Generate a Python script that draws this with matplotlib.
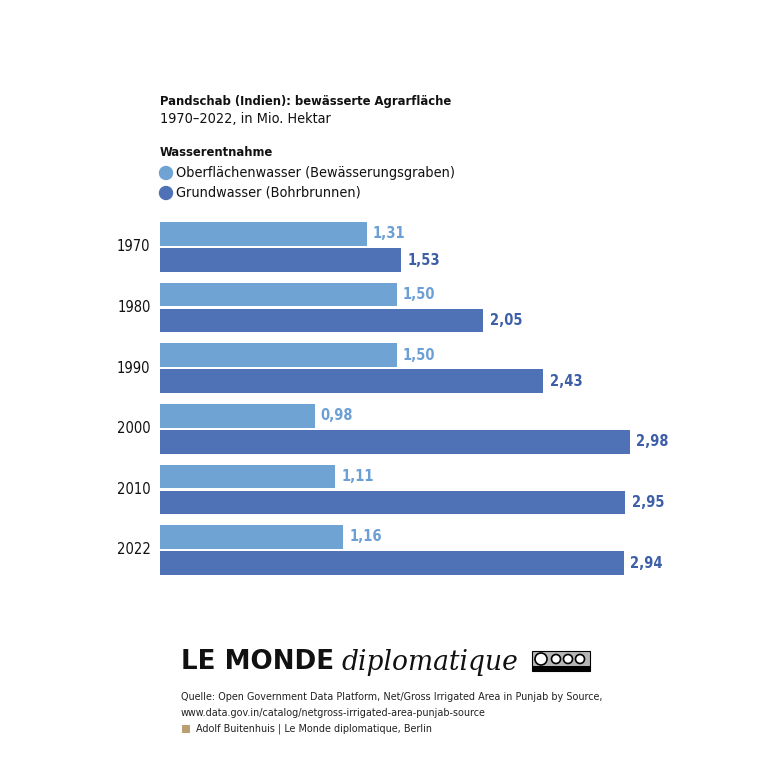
import numpy as np
import matplotlib.pyplot as plt
from matplotlib.patches import Rectangle, Circle

years = ["1970", "1980", "1990", "2000", "2010", "2022"]
surface = [1.31, 1.50, 1.50, 0.98, 1.11, 1.16]   # Oberflächenwasser
ground = [1.53, 2.05, 2.43, 2.98, 2.95, 2.94]    # Grundwasser

light = "#6fa3d4"
dark = "#4f72b6"
light_txt = "#6c9fd5"
dark_txt = "#3d5fa8"

plt.rcParams['font.family'] = ['DejaVu Sans']
plt.rcParams['font.stretch'] = 'condensed'

fig = plt.figure(figsize=(7.81, 7.78), dpi=100)
W, H = 781, 778

def fx(px):
    return px / W

def fy(py):
    return 1 - py / H

# axes: x=0 at 160px, 157.7 px per unit; groups 60.6px apart
ax = fig.add_axes([fx(160), fy(580.3), 3.5 * 157.7 / W, (580.3 - 216.7) / H])
y = np.arange(len(years))
off = 0.215
h = 0.39
ax.barh(y - off, surface, height=h, color=light)
ax.barh(y + off, ground, height=h, color=dark)
for i in range(len(years)):
    ax.text(surface[i] + 0.04, y[i] - off, f"{surface[i]:.2f}".replace(".", ","),
            va="center", ha="left", fontsize=10.5, fontweight="bold", color=light_txt)
    ax.text(ground[i] + 0.04, y[i] + off, f"{ground[i]:.2f}".replace(".", ","),
            va="center", ha="left", fontsize=10.5, fontweight="bold", color=dark_txt)
    ax.text(-0.06, y[i], years[i], va="center", ha="right", fontsize=10.5, color="#111111")
ax.set_xlim(0, 3.5)
ax.set_ylim(5.5, -0.5)
ax.axis("off")

# header
fb, fr = 9.3, 10.4
fig.text(fx(160), fy(101), "Pandschab (Indien): bewässerte Agrarfläche", fontsize=fb,
         fontweight="bold", va="center", ha="left", color="#111111")
fig.text(fx(160), fy(119), "1970–2022, in Mio. Hektar", fontsize=fr,
         va="center", ha="left", color="#111111")
fig.text(fx(160), fy(153), "Wasserentnahme", fontsize=fb, fontweight="bold",
         va="center", ha="left", color="#111111")
fig.patches.append(Circle((fx(166), fy(173)), 6.5 / W, color=light,
                          transform=fig.transFigure, figure=fig))
fig.text(fx(176), fy(173), "Oberflächenwasser (Bewässerungsgraben)", fontsize=fr,
         va="center", ha="left", color="#111111")
fig.patches.append(Circle((fx(166), fy(193)), 6.5 / W, color=dark,
                          transform=fig.transFigure, figure=fig))
fig.text(fx(176), fy(193), "Grundwasser (Bohrbrunnen)", fontsize=fr,
         va="center", ha="left", color="#111111")

# logo
fig.text(fx(181), fy(662), "LE MONDE", fontsize=18.8, fontweight="heavy",
         family=["DejaVu Sans"], stretch="normal", va="center", ha="left", color="#111111")
fig.text(fx(341), fy(663), "diplomatique", fontsize=19.1, style="italic",
         family=["DejaVu Serif"], stretch="normal", va="center", ha="left", color="#111111")
fig.patches.append(Rectangle((fx(532), fy(671)), 58 / W, 20 / H, facecolor="#b5b5b5",
                             edgecolor="black", lw=0.8, transform=fig.transFigure, figure=fig))
fig.patches.append(Rectangle((fx(532), fy(671)), 58 / W, 5 / H, facecolor="black",
                             transform=fig.transFigure, figure=fig))
for cx, r in [(541, 6), (556, 4.5), (568, 4.5), (580, 4.5)]:
    fig.patches.append(Circle((fx(cx), fy(659)), r / W, facecolor="white",
                              edgecolor="black", lw=1.2, transform=fig.transFigure, figure=fig))

# source
fs2 = 7.75
src = ["Quelle: Open Government Data Platform, Net/Gross Irrigated Area in Punjab by Source,",
       "www.data.gov.in/catalog/netgross-irrigated-area-punjab-source"]
fig.text(fx(181), fy(697), src[0], fontsize=fs2, va="center", ha="left", color="#222222")
fig.text(fx(181), fy(713), src[1], fontsize=fs2, va="center", ha="left", color="#222222")
fig.patches.append(Rectangle((fx(182), fy(733)), 8 / W, 8 / H, facecolor="#b8a073",
                             transform=fig.transFigure, figure=fig))
fig.text(fx(196), fy(729), "Adolf Buitenhuis | Le Monde diplomatique, Berlin", fontsize=fs2,
         va="center", ha="left", color="#222222")

fig.savefig("out.png", dpi=100, facecolor="white")
